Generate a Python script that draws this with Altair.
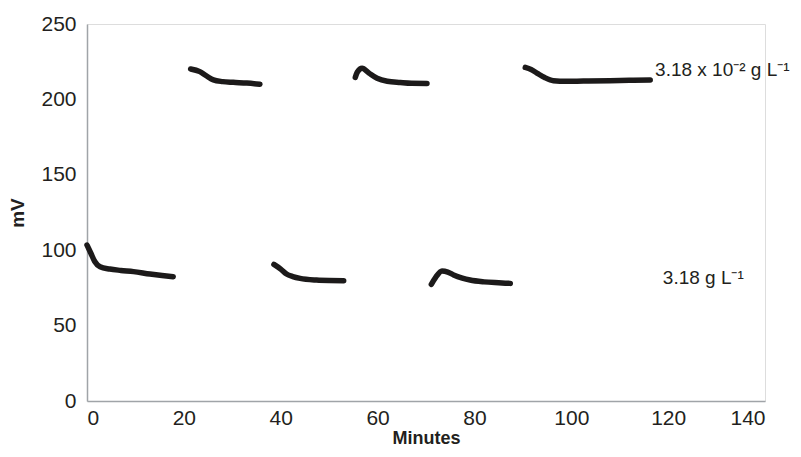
import altair as alt
import pandas as pd

# Readings (minutes, mV) for each recorded segment
seg1_x = [0, 0.8, 1.6, 2.7, 4.7, 7, 9.6, 13, 15.5, 17.8]
seg1_y = [103.4, 98, 92.5, 89, 87.5, 86.6, 85.8, 84.2, 83.2, 82.4]
seg2_x = [38.6, 40, 41.2, 42.5, 44, 47.4, 50, 53]
seg2_y = [90.6, 87.5, 84.2, 82.5, 81.3, 80.2, 79.9, 79.8]
seg3_x = [71.1, 72, 73.3, 74.5, 75.7, 77.5, 79.1, 82, 85, 87.4]
seg3_y = [77.4, 82, 86.2, 85.5, 83.6, 81.5, 80.2, 79, 78.4, 78]
seg4_x = [21.4, 23.3, 24.7, 26.1, 28, 30.2, 33, 35.7]
seg4_y = [220.2, 218.4, 215.5, 212.9, 211.8, 211.3, 210.8, 210]
seg5_x = [55.4, 55.8, 56.8, 58.2, 59.9, 62, 64.7, 67, 70.2]
seg5_y = [214.6, 218, 220.6, 217.5, 214, 212, 211.2, 210.7, 210.6]
seg6_x = [90.5, 91.7, 92.9, 94.5, 96.3, 99, 102.5, 108, 112, 116.3]
seg6_y = [221.2, 219.8, 217.5, 214.5, 212.4, 212, 212.2, 212.4, 212.7, 212.9]

label_text = ["3.18 x 10\u207b\u00b2 g L\u207b\u00b9", "3.18 g L\u207b\u00b9"]
label_x = [117.3, 118.9]
label_y = [219.5, 81.6]

x_ticks = [0, 20, 40, 60, 80, 100, 120, 140]
y_ticks = [0, 50, 100, 150, 200, 250]

rows = []
for i, (xs, ys) in enumerate([(seg1_x, seg1_y), (seg2_x, seg2_y), (seg3_x, seg3_y),
                               (seg4_x, seg4_y), (seg5_x, seg5_y), (seg6_x, seg6_y)]):
    for k, (a, b) in enumerate(zip(xs, ys)):
        rows.append({"seg": i, "order": k, "min": a, "mv": b})
df = pd.DataFrame(rows)
lab = pd.DataFrame({"t": label_text, "x": label_x, "y": label_y})

FONT = "Liberation Sans"
xs = alt.Scale(domain=[0, 140], nice=False)
ys = alt.Scale(domain=[0, 250], nice=False)

lines = alt.Chart(df).mark_line(
    color="#1c1a1a", strokeWidth=5.5, strokeCap="round", strokeJoin="round",
    interpolate="monotone"
).encode(
    x=alt.X("min:Q", scale=xs, title="Minutes",
            axis=alt.Axis(values=x_ticks, grid=False, ticks=False, labelPadding=6,
                          domainColor="#a0a4a8", domainWidth=1.5,
                          labelFont=FONT, labelFontSize=21, labelColor="#231f20",
                          titleFont=FONT, titleFontSize=18, titleFontWeight="bold",
                          titleColor="#231f20", titlePadding=1)),
    y=alt.Y("mv:Q", scale=ys, title="mV",
            axis=alt.Axis(values=y_ticks, grid=False, ticks=False, labelPadding=11,
                          domainColor="#a0a4a8", domainWidth=1.5,
                          labelFont=FONT, labelFontSize=21, labelColor="#231f20",
                          titleFont=FONT, titleFontSize=19, titleFontWeight="bold",
                          titleColor="#231f20", titlePadding=13)),
    detail="seg:N",
    order="order:Q",
)

texts = alt.Chart(lab).mark_text(
    align="left", baseline="middle", font=FONT, fontSize=19, color="#231f20"
).encode(x=alt.X("x:Q", scale=xs), y=alt.Y("y:Q", scale=ys), text="t:N")

chart = (lines + texts).properties(
    width=678, height=377,
    padding={"left": 79, "top": 16, "right": 28, "bottom": 48},
    autosize="none",
).configure_view(stroke=None).configure(background="white")

chart.save("out.html", embed_options={"renderer": "svg", "actions": False})
